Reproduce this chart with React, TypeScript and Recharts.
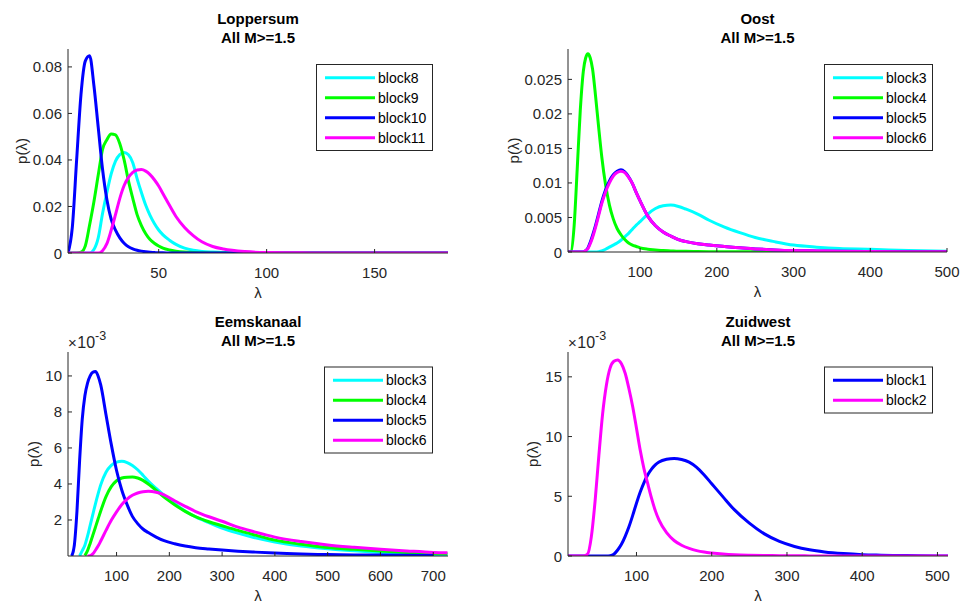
import React from 'react';
import { LineChart, Line, XAxis, YAxis } from 'recharts';

// ---- Loppersum ----
const lopLambda = [8, 10, 12, 14, 16, 18, 20, 22, 24, 26, 28, 30, 32, 34, 36, 38, 40, 42, 44, 46, 48, 50, 52, 55, 58, 62, 66, 70, 75, 80, 90, 100, 115, 130, 150, 184];
const lopBlock8 = [0, 0, 0, 0, 0, 0, 0.0015, 0.0065, 0.017, 0.026, 0.034, 0.0395, 0.0423, 0.0432, 0.0422, 0.0388, 0.032, 0.026, 0.0205, 0.0162, 0.0127, 0.0099, 0.0078, 0.0055, 0.0037, 0.0021, 0.0012, 0.0007, 0.0004, 0.0002, 0.0001, 0, 0, 0, 0, 0];
const lopBlock9 = [0, 0, 0, 0.0003, 0.003, 0.012, 0.022, 0.0335, 0.0445, 0.0487, 0.0512, 0.0508, 0.047, 0.04, 0.031, 0.0235, 0.0165, 0.0118, 0.0083, 0.0058, 0.0042, 0.003, 0.0021, 0.0013, 0.0008, 0.0004, 0.0002, 0.0001, 0, 0, 0, 0, 0, 0, 0, 0];
const lopBlock10 = [0, 0.011, 0.04, 0.068, 0.0825, 0.0848, 0.072, 0.054, 0.036, 0.023, 0.0145, 0.0098, 0.0065, 0.0042, 0.0027, 0.0018, 0.0012, 0.0008, 0.0005, 0.0003, 0.0002, 0.0001, 0.0001, 0, 0, 0, 0, 0, 0, 0, 0, 0, 0, 0, 0, 0];
const lopBlock11 = [0, 0, 0, 0, 0, 0, 0, 0, 0.001, 0.004, 0.0098, 0.0165, 0.0235, 0.029, 0.0325, 0.0347, 0.0357, 0.0359, 0.0352, 0.0337, 0.0315, 0.0288, 0.0255, 0.0205, 0.0157, 0.011, 0.0075, 0.0048, 0.0028, 0.0017, 0.0006, 0.0002, 0.0001, 0, 0, 0];

// ---- Oost ----
const oostLambda = [6, 10, 14, 18, 22, 26, 29, 32, 35, 38, 42, 46, 50, 55, 60, 65, 70, 75, 80, 85, 90, 95, 100, 110, 120, 130, 140, 150, 160, 175, 190, 210, 230, 250, 275, 300, 330, 360, 400, 450, 500];
const oostBlock3 = [0, 0, 0, 0, 0, 0, 0, 0, 0, 0, 0, 0.00005, 0.00015, 0.0004, 0.0007, 0.001, 0.0013, 0.0017, 0.0022, 0.0027, 0.0033, 0.0039, 0.0044, 0.0055, 0.0063, 0.0067, 0.0068, 0.0066, 0.0062, 0.0055, 0.0046, 0.0036, 0.0028, 0.0021, 0.0015, 0.001, 0.0007, 0.0005, 0.0004, 0.0002, 0.0001];
const oostBlock4 = [0, 0.0001, 0.0038, 0.012, 0.0205, 0.0262, 0.0281, 0.0287, 0.0281, 0.0265, 0.0225, 0.018, 0.0138, 0.0097, 0.0068, 0.0048, 0.0034, 0.0025, 0.0018, 0.0013, 0.001, 0.0008, 0.0006, 0.0004, 0.0003, 0.0002, 0.00015, 0.0001, 0.0001, 0.00007, 0.00005, 0.00004, 0.00003, 0.00002, 0.00001, 0.00001, 0, 0, 0, 0, 0];
const oostBlock5 = [0, 0, 0, 0, 0, 0, 0.0002, 0.0006, 0.0014, 0.0024, 0.0039, 0.0056, 0.0073, 0.009, 0.0103, 0.0112, 0.0117, 0.0119, 0.0116, 0.0109, 0.0099, 0.0086, 0.0074, 0.0052, 0.0038, 0.0029, 0.0023, 0.0018, 0.0015, 0.0012, 0.001, 0.0008, 0.0006, 0.00045, 0.0003, 0.0002, 0.00015, 0.0001, 0.00007, 0.00004, 0.00002];
const oostBlock6 = [0, 0, 0, 0, 0, 0, 0.0002, 0.0005, 0.0012, 0.0021, 0.0036, 0.0053, 0.007, 0.0087, 0.01, 0.011, 0.0115, 0.0117, 0.0115, 0.0108, 0.0099, 0.0086, 0.0074, 0.0052, 0.0038, 0.0029, 0.0023, 0.0018, 0.0015, 0.0012, 0.001, 0.0008, 0.0006, 0.00045, 0.0003, 0.0002, 0.00015, 0.0001, 0.00007, 0.00004, 0.00002];

// ---- Eemskanaal (values in units of 1e-3) ----
const eemsLambda = [8, 15, 20, 25, 30, 35, 40, 45, 50, 55, 60, 65, 70, 80, 90, 100, 110, 120, 130, 140, 150, 160, 175, 190, 210, 230, 250, 275, 300, 330, 360, 400, 450, 500, 550, 600, 650, 700, 727];
const eemsBlock3 = [null, null, null, null, 0, 0.3, 0.6, 1.1, 1.7, 2.3, 2.9, 3.45, 3.95, 4.65, 5.03, 5.21, 5.26, 5.19, 5.03, 4.79, 4.49, 4.16, 3.75, 3.38, 2.9, 2.5, 2.17, 1.85, 1.55, 1.27, 1.03, 0.78, 0.55, 0.4, 0.29, 0.2, 0.13, 0.08, 0.06];
const eemsBlock4 = [null, null, null, null, null, null, 0.03, 0.3, 0.7, 1.15, 1.6, 2.05, 2.5, 3.3, 3.85, 4.18, 4.33, 4.38, 4.39, 4.33, 4.2, 4.0, 3.65, 3.27, 2.85, 2.48, 2.18, 1.9, 1.68, 1.42, 1.18, 0.88, 0.65, 0.47, 0.37, 0.28, 0.2, 0.14, 0.12];
const eemsBlock5 = [null, 0, 0.6, 2.5, 5.3, 7.6, 8.9, 9.6, 10.0, 10.2, 10.25, 10.0, 9.5, 7.85, 6.2, 4.75, 3.65, 2.85, 2.2, 1.8, 1.5, 1.3, 1.05, 0.85, 0.68, 0.55, 0.46, 0.39, 0.33, 0.27, 0.22, 0.16, 0.11, 0.08, 0.06, 0.05, 0.04, 0.03, null];
const eemsBlock6 = [null, null, null, null, null, null, null, 0, 0.02, 0.12, 0.32, 0.55, 0.83, 1.42, 1.98, 2.45, 2.86, 3.16, 3.37, 3.5, 3.57, 3.59, 3.54, 3.4, 3.07, 2.76, 2.47, 2.18, 1.93, 1.6, 1.35, 1.05, 0.8, 0.61, 0.48, 0.37, 0.28, 0.2, 0.18];

// ---- Zuidwest (values in units of 1e-3) ----
const zuidLambda = [9, 20, 30, 35, 40, 45, 50, 55, 60, 65, 70, 75, 80, 85, 90, 95, 100, 105, 110, 115, 120, 125, 130, 140, 150, 160, 170, 180, 190, 200, 215, 230, 250, 270, 290, 310, 330, 350, 375, 400, 425, 450, 475, 500, 514];
const zuidBlock1 = [0, 0, 0, 0, 0, 0, 0, 0, 0, 0.02, 0.15, 0.5, 0.98, 1.65, 2.45, 3.4, 4.42, 5.35, 6.15, 6.8, 7.28, 7.63, 7.87, 8.1, 8.17, 8.08, 7.86, 7.42, 6.78, 6.05, 4.95, 3.88, 2.75, 1.85, 1.22, 0.8, 0.52, 0.34, 0.2, 0.11, 0.07, 0.04, 0.02, 0.01, 0.01];
const zuidBlock2 = [0, 0, 0, 0.15, 1.6, 4.6, 8.4, 11.9, 14.3, 15.75, 16.3, 16.42, 16.1, 15.3, 14.0, 12.5, 10.7, 8.85, 7.3, 6.05, 4.85, 3.8, 3.0, 1.95, 1.3, 0.9, 0.64, 0.45, 0.33, 0.25, 0.16, 0.1, 0.06, 0.04, 0.03, 0.02, 0.01, 0.01, 0.01, 0, 0, 0, 0, 0, 0];

const CYAN = '#00FFFF';
const GREEN = '#00FF00';
const BLUE = '#0000FF';
const MAGENTA = '#FF00FF';
const AXIS = '#262626';
const FONT = '"Liberation Sans", Arial, Helvetica, sans-serif';
const LINE_W = 3;

type Series = { name: string; values: (number | null)[]; color: string };
type Panel = {
  title: string;
  chartLeft: number;
  chartTop: number;
  margin: { top: number; right: number; bottom: number; left: number };
  lambda: number[];
  series: Series[];
  xDomain: [number, number];
  xTicks: number[];
  yDomain: [number, number];
  yTicks: number[];
  exponent: boolean;
  plot: { left: number; right: number; top: number; bottom: number };
  yLabelX: number;
  legend: { x: number; y: number; w: number; lineX: number; textX: number };
};

const panels: Panel[] = [
  {
    title: 'Loppersum',
    chartLeft: 0,
    chartTop: 0,
    margin: { top: 49, right: 32, bottom: 18, left: 8 },
    lambda: lopLambda,
    series: [
      { name: 'block8', values: lopBlock8, color: CYAN },
      { name: 'block9', values: lopBlock9, color: GREEN },
      { name: 'block10', values: lopBlock10, color: BLUE },
      { name: 'block11', values: lopBlock11, color: MAGENTA },
    ],
    xDomain: [8, 184],
    xTicks: [50, 100, 150],
    yDomain: [0, 0.0877],
    yTicks: [0, 0.02, 0.04, 0.06, 0.08],
    exponent: false,
    plot: { left: 68, right: 448, top: 49, bottom: 253 },
    yLabelX: 21,
    legend: { x: 316.5, y: 64.5, w: 116, lineX: 325, textX: 378 },
  },
  {
    title: 'Oost',
    chartLeft: 480,
    chartTop: 0,
    margin: { top: 49, right: 13, bottom: 19, left: 28 },
    lambda: oostLambda,
    series: [
      { name: 'block3', values: oostBlock3, color: CYAN },
      { name: 'block4', values: oostBlock4, color: GREEN },
      { name: 'block5', values: oostBlock5, color: BLUE },
      { name: 'block6', values: oostBlock6, color: MAGENTA },
    ],
    xDomain: [6, 500],
    xTicks: [100, 200, 300, 400, 500],
    yDomain: [0, 0.0294],
    yTicks: [0, 0.005, 0.01, 0.015, 0.02, 0.025],
    exponent: false,
    plot: { left: 568, right: 947, top: 49, bottom: 252 },
    yLabelX: 513,
    legend: { x: 824.5, y: 64.5, w: 108, lineX: 833, textX: 886 },
  },
  {
    title: 'Eemskanaal',
    chartLeft: 0,
    chartTop: 301,
    margin: { top: 51, right: 32, bottom: 16, left: 8 },
    lambda: eemsLambda,
    series: [
      { name: 'block3', values: eemsBlock3, color: CYAN },
      { name: 'block4', values: eemsBlock4, color: GREEN },
      { name: 'block5', values: eemsBlock5, color: BLUE },
      { name: 'block6', values: eemsBlock6, color: MAGENTA },
    ],
    xDomain: [8, 728],
    xTicks: [100, 200, 300, 400, 500, 600, 700],
    yDomain: [0, 11.33],
    yTicks: [2, 4, 6, 8, 10],
    exponent: true,
    plot: { left: 68, right: 448, top: 352, bottom: 556 },
    yLabelX: 33,
    legend: { x: 324.5, y: 367, w: 108, lineX: 333, textX: 386 },
  },
  {
    title: 'Zuidwest',
    chartLeft: 480,
    chartTop: 301,
    margin: { top: 51, right: 12, bottom: 16, left: 28 },
    lambda: zuidLambda,
    series: [
      { name: 'block1', values: zuidBlock1, color: BLUE },
      { name: 'block2', values: zuidBlock2, color: MAGENTA },
    ],
    xDomain: [9, 514],
    xTicks: [100, 200, 300, 400, 500],
    yDomain: [0, 17.08],
    yTicks: [0, 5, 10, 15],
    exponent: true,
    plot: { left: 568, right: 948, top: 352, bottom: 556 },
    yLabelX: 532,
    legend: { x: 824.5, y: 367, w: 108, lineX: 833, textX: 886 },
  },
];

const XTick = (props: any) => {
  const { x, y, payload } = props;
  return (
    <g>
      <line x1={x} x2={x} y1={y} y2={y - 4} stroke={AXIS} strokeWidth={1} />
      <text x={x} y={y + 24.5} textAnchor="middle" fill={AXIS} fontSize={15} fontFamily={FONT}>
        {payload.value}
      </text>
    </g>
  );
};

const YTick = (props: any) => {
  const { x, y, payload } = props;
  return (
    <g>
      <line x1={x} x2={x + 4} y1={y} y2={y} stroke={AXIS} strokeWidth={1} />
      <text x={x - 6} y={y + 5.5} textAnchor="end" fill={AXIS} fontSize={15} fontFamily={FONT}>
        {String(payload.value)}
      </text>
    </g>
  );
};

function PanelChart({ p }: { p: Panel }) {
  const data = p.lambda.map((lam, i) => {
    const row: Record<string, number | null> = { lam };
    p.series.forEach((s, k) => {
      row['s' + k] = s.values[i];
    });
    return row;
  });
  return (
    <div style={{ position: 'absolute', left: p.chartLeft, top: p.chartTop }}>
      <LineChart width={480} height={301} data={data} margin={p.margin}>
        <XAxis
          dataKey="lam"
          type="number"
          domain={p.xDomain}
          allowDataOverflow
          ticks={p.xTicks}
          interval={0}
          height={30}
          tickSize={0}
          tickMargin={0}
          tickLine={false}
          axisLine={{ stroke: AXIS, strokeWidth: 1 }}
          tick={(t: any) => <XTick {...t} />}
        />
        <YAxis
          type="number"
          domain={p.yDomain}
          allowDataOverflow
          ticks={p.yTicks}
          interval={0}
          width={60}
          tickSize={0}
          tickMargin={0}
          tickLine={false}
          axisLine={{ stroke: AXIS, strokeWidth: 1 }}
          tick={(t: any) => <YTick {...t} />}
        />
        {p.series.map((s, k) => (
          <Line
            key={s.name}
            dataKey={'s' + k}
            type="monotone"
            stroke={s.color}
            strokeWidth={LINE_W}
            dot={false}
            activeDot={false}
            isAnimationActive={false}
            connectNulls={false}
          />
        ))}
      </LineChart>
    </div>
  );
}

function Annotations() {
  return (
    <svg
      width={960}
      height={602}
      style={{ position: 'absolute', left: 0, top: 0, pointerEvents: 'none' }}
      fontFamily={FONT}
    >
      {panels.map((p) => {
        const cx = (p.plot.left + p.plot.right) / 2;
        const cy = (p.plot.top + p.plot.bottom) / 2;
        const t1 = p.plot.top - 25.5;
        const t2 = p.plot.top - 6;
        const lg = p.legend;
        const rowH = 20;
        const h = p.series.length * rowH + 6;
        return (
          <g key={p.title}>
            <text x={cx} y={t1} textAnchor="middle" fontWeight="bold" fontSize={15} fill="#000">
              {p.title}
            </text>
            <text x={cx} y={t2} textAnchor="middle" fontWeight="bold" fontSize={15} fill="#000">
              All M&gt;=1.5
            </text>
            <text
              x={p.yLabelX}
              y={cy}
              transform={`rotate(-90 ${p.yLabelX} ${cy})`}
              textAnchor="middle"
              dominantBaseline="central"
              fontSize={15}
              fill={AXIS}
            >
              p(λ)
            </text>
            <text x={cx} y={p.plot.bottom + 39} textAnchor="middle" dominantBaseline="central" fontSize={15} fill={AXIS}>
              λ
            </text>
            {p.exponent && (
              <text x={p.plot.left} y={p.plot.top - 4} fill={AXIS} fontSize={16}>
                <tspan fontSize={15}>×</tspan>
                <tspan dx={0.5}>10</tspan>
                <tspan dy={-8} fontSize={12.5}>-3</tspan>
              </text>
            )}
            <rect x={lg.x} y={lg.y} width={lg.w} height={h} fill="#fff" stroke={AXIS} strokeWidth={1} />
            {p.series.map((s, k) => {
              const ry = lg.y + 13.3 + k * rowH;
              return (
                <g key={s.name}>
                  <line x1={lg.lineX} x2={lg.lineX + 50} y1={ry} y2={ry} stroke={s.color} strokeWidth={LINE_W} />
                  <text x={lg.textX} y={ry + 5} fontSize={14} fill="#000">
                    {s.name}
                  </text>
                </g>
              );
            })}
          </g>
        );
      })}
    </svg>
  );
}

export default function App() {
  return (
    <div style={{ position: 'absolute', left: 0, top: 0, width: 960, height: 602, background: '#fff', overflow: 'hidden' }}>
      {panels.map((p) => (
        <PanelChart key={p.title} p={p} />
      ))}
      <Annotations />
    </div>
  );
}
